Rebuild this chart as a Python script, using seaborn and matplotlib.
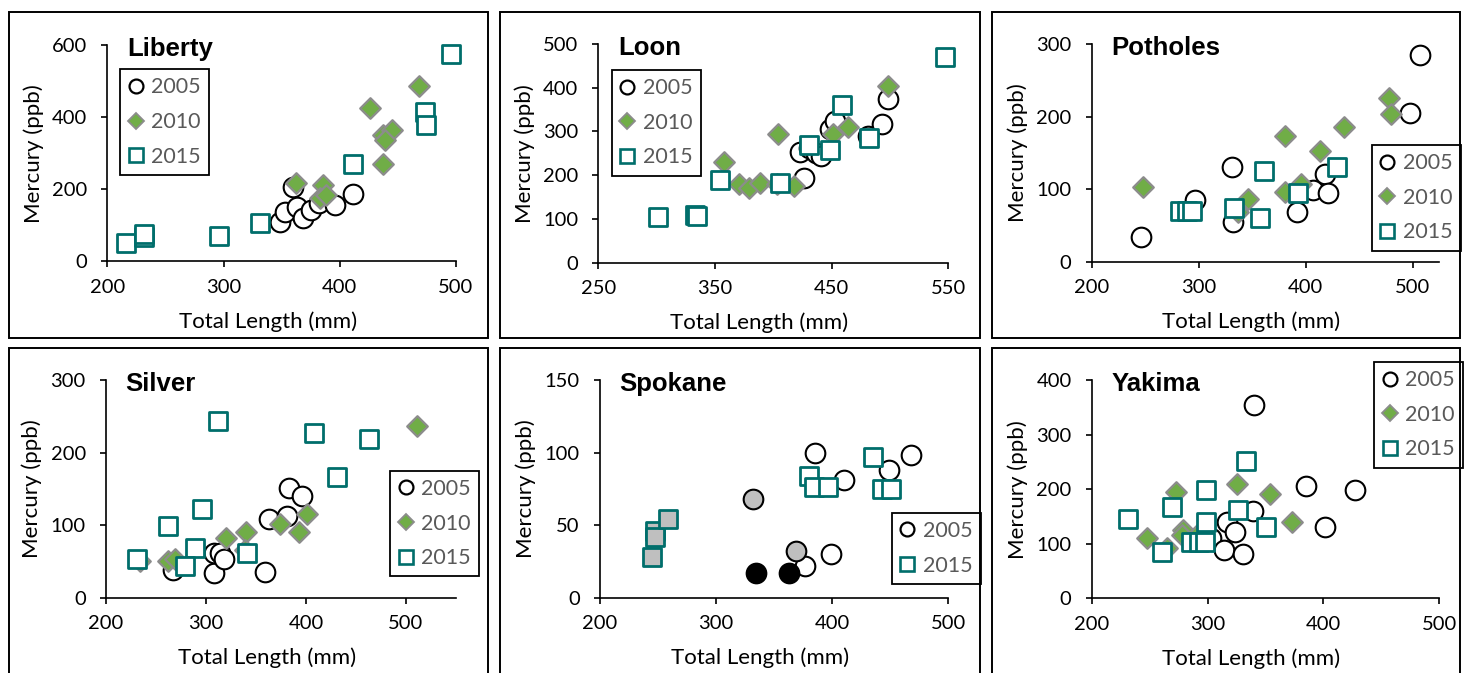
import matplotlib
matplotlib.use("Agg")
import matplotlib.pyplot as plt
from matplotlib.patches import Rectangle
from matplotlib.lines import Line2D
import seaborn as sns

sns.set_style("white")
plt.rcParams["font.family"] = ["Lato", "DejaVu Sans"]

W, H = 1466, 673

# ---- data (Total Length mm, Mercury ppb) ----
lib05_x = [360, 349, 353, 363, 368, 375, 382, 396, 411]
lib05_y = [207, 110, 138, 152, 119, 142, 161, 156, 186]
lib10_x = [362, 386, 383, 388, 426, 437, 445, 439, 437, 468]
lib10_y = [217, 212, 175, 184, 427, 351, 365, 337, 269, 487]
lib15_x = [216, 232, 232, 296, 331, 411, 473, 474, 496]
lib15_y = [50, 68, 76, 70, 106, 269, 415, 379, 576]

loon05_x = [426, 423, 431, 437, 441, 449, 453, 481, 493, 498]
loon05_y = [193, 254, 262, 250, 244, 305, 323, 290, 317, 374]
loon10_x = [358, 371, 379, 389, 404, 403, 418, 451, 464, 498]
loon10_y = [230, 180, 170, 182, 294, 180, 176, 295, 311, 403]
loon15_x = [301, 333, 335, 354, 406, 431, 449, 459, 482, 547]
loon15_y = [105, 110, 106, 189, 183, 270, 258, 361, 285, 470]

pot05_x = [246, 297, 331, 332, 392, 407, 418, 421, 498, 507]
pot05_y = [34, 85, 130, 55, 68, 99, 121, 94, 205, 285]
pot10_x = [248, 337, 346, 381, 381, 396, 413, 436, 478, 480]
pot10_y = [103, 69, 87, 173, 96, 107, 153, 185, 225, 203]
pot15_x = [283, 289, 294, 333, 357, 361, 393, 429]
pot15_y = [70, 70, 70, 74, 60, 125, 94, 131]

sil05_x = [267, 308, 308, 314, 318, 359, 363, 381, 383, 396]
sil05_y = [38, 34, 62, 62, 54, 36, 109, 112, 151, 140]
sil10_x = [234, 262, 269, 320, 340, 339, 374, 393, 401, 511]
sil10_y = [50, 50, 54, 82, 90, 66, 102, 90, 116, 237]
sil15_x = [231, 262, 289, 279, 296, 312, 341, 408, 431, 463]
sil15_y = [54, 99, 68, 43, 122, 243, 61, 227, 166, 219]

spo05_open_x = [385, 410, 449, 468, 399, 377]
spo05_open_y = [100, 81, 88, 98, 30, 22]
spo05_black_x = [334, 363]
spo05_black_y = [17, 17]
spo05_gray_x = [332, 369]
spo05_gray_y = [68, 32]
spo15_open_x = [380, 384, 396, 435, 443, 451]
spo15_open_y = [84, 76, 76, 97, 75, 75]
spo15_gray_x = [245, 247, 247, 259]
spo15_gray_y = [28, 46, 42, 54]

yak05_x = [340, 385, 427, 401, 339, 317, 324, 303, 314, 331]
yak05_y = [354, 206, 198, 131, 160, 140, 121, 110, 89, 81]
yak10_x = [248, 265, 273, 279, 278, 293, 325, 354, 373]
yak10_y = [110, 93, 195, 126, 116, 119, 209, 191, 140]
yak15_x = [231, 269, 261, 299, 299, 286, 293, 298, 333, 326, 350]
yak15_y = [145, 168, 85, 198, 139, 104, 104, 104, 252, 162, 131]

GREEN = "#70AD47"
GREY_EDGE = "#8C8C8C"
TEAL = "#006E6B"
LEG_TXT = "#595959"

# marker styles: (marker, size, face, edge, lw)
ST = {
    "05": ("o", 200, "white", "black", 1.5),
    "05k": ("o", 200, "black", "black", 1.5),
    "05g": ("o", 200, "#BFBFBF", "black", 1.5),
    "10": ("D", 110, GREEN, GREY_EDGE, 1.6),
    "15": ("s", 185, "white", TEAL, 2.0),
    "15g": ("s", 185, "#BFBFBF", TEAL, 2.0),
}
LEG = {
    "05": dict(marker="o", ms=10, mfc="white", mec="black", mew=1.6),
    "10": dict(marker="D", ms=8, mfc=GREEN, mec=GREY_EDGE, mew=1.3),
    "15": dict(marker="s", ms=9.5, mfc="white", mec=TEAL, mew=1.9),
}

panels = [
    dict(name="Liberty", box=(107.3, 45.3, 456, 261.3), xlim=(200, 500), xt=[200, 300, 400, 500],
         ylim=(0, 600), yt=[0, 200, 400, 600], leg=(120, 69.3), legkeys=["05", "10", "15"],
         series=[("05", lib05_x, lib05_y), ("10", lib10_x, lib10_y), ("15", lib15_x, lib15_y)]),
    dict(name="Loon", box=(598.3, 44, 948.3, 262.7), xlim=(250, 550), xt=[250, 350, 450, 550],
         ylim=(0, 500), yt=[0, 100, 200, 300, 400, 500], leg=(611.7, 70), legkeys=["05", "10", "15"],
         series=[("05", loon05_x, loon05_y), ("10", loon10_x, loon10_y), ("15", loon15_x, loon15_y)]),
    dict(name="Potholes", box=(1091.7, 44, 1439.3, 261.7), xlim=(200, 525), xt=[200, 300, 400, 500],
         ylim=(0, 300), yt=[0, 100, 200, 300], leg=(1371.7, 145), legkeys=["05", "10", "15"],
         series=[("05", pot05_x, pot05_y), ("10", pot10_x, pot10_y), ("15", pot15_x, pot15_y)]),
    dict(name="Silver", box=(106, 380, 456, 597.7), xlim=(200, 550), xt=[200, 300, 400, 500],
         ylim=(0, 300), yt=[0, 100, 200, 300], leg=(390, 470.7), legkeys=["05", "10", "15"],
         series=[("05", sil05_x, sil05_y), ("10", sil10_x, sil10_y), ("15", sil15_x, sil15_y)]),
    dict(name="Spokane", box=(600, 380, 948.3, 597.7), xlim=(200, 500), xt=[200, 300, 400, 500],
         ylim=(0, 150), yt=[0, 50, 100, 150], leg=(891.7, 512.7), legkeys=["05", "15"],
         series=[("05", spo05_open_x, spo05_open_y), ("05k", spo05_black_x, spo05_black_y),
                 ("05g", spo05_gray_x, spo05_gray_y), ("15", spo15_open_x, spo15_open_y),
                 ("15g", spo15_gray_x, spo15_gray_y)]),
    dict(name="Yakima", box=(1091.7, 380, 1439.3, 598.3), xlim=(200, 500), xt=[200, 300, 400, 500],
         ylim=(0, 400), yt=[0, 100, 200, 300, 400], leg=(1374, 362), legkeys=["05", "10", "15"],
         series=[("05", yak05_x, yak05_y), ("10", yak10_x, yak10_y), ("15", yak15_x, yak15_y)]),
]
years = {"05": "2005", "10": "2010", "15": "2015"}

fig = plt.figure(figsize=(W / 100, H / 100), dpi=100)

# chart-area frames
for x0, y0, x1, y1 in [(8.7, 12, 488.3, 338.3), (500, 12, 980, 338.3), (992, 12, 1460, 338.3),
                       (8.7, 348.3, 488.3, 690), (500, 348.3, 980, 690), (992, 348.3, 1460, 690)]:
    fig.add_artist(Rectangle((x0 / W, 1 - y1 / H), (x1 - x0) / W, (y1 - y0) / H,
                             transform=fig.transFigure, fill=False, edgecolor="black", lw=1.4))

for p in panels:
    x0, y0, x1, y1 = p["box"]
    ax = fig.add_axes([x0 / W, 1 - y1 / H, (x1 - x0) / W, (y1 - y0) / H])
    ax.set_facecolor("none")
    for key, xs, ys in p["series"]:
        m, s, fc, ec, lw = ST[key]
        sns.scatterplot(x=xs, y=ys, ax=ax, marker=m, s=s, facecolor=fc, edgecolor=ec,
                        linewidth=lw, legend=False, zorder=3, clip_on=False)
    ax.set_xlim(*p["xlim"]); ax.set_ylim(*p["ylim"])
    ax.set_xticks(p["xt"]); ax.set_yticks(p["yt"])
    sns.despine(ax=ax)
    for sp in ["left", "bottom"]:
        ax.spines[sp].set_color("black"); ax.spines[sp].set_linewidth(1.2)
    ax.tick_params(direction="out", length=4.5, width=1.2, color="black",
                   labelsize=14.5, labelcolor="black", left=True, bottom=True)
    ax.tick_params(axis="x", pad=8)
    ax.tick_params(axis="y", pad=10)
    ax.set_xlabel("Total Length (mm)", fontsize=16, color="black")
    ax.set_ylabel("Mercury (ppb)", fontsize=16, color="black")
    wpx, hpx = x1 - x0, y1 - y0
    ax.xaxis.label.set_va("center")
    ax.xaxis.set_label_coords(0.5 - 14 / wpx, -60 / hpx)
    ax.yaxis.label.set_va("center")
    ax.yaxis.set_label_coords(-74 / wpx, 0.5)
    ax.text(19.5 / wpx, 1 - 11 / hpx, p["name"], transform=ax.transAxes,
            fontsize=18.5, fontweight="bold", family=["Liberation Sans", "DejaVu Sans"],
            color="black", ha="left", va="baseline")
    handles = [Line2D([], [], ls="", **LEG[k]) for k in p["legkeys"]]
    lx, ly = p["leg"]
    leg = ax.legend(handles, [years[k] for k in p["legkeys"]], loc="upper left",
                    bbox_to_anchor=(lx / W, 1 - ly / H), bbox_transform=fig.transFigure,
                    borderaxespad=0, fontsize=15.5, frameon=True, fancybox=False,
                    borderpad=0.38, labelspacing=0.68, handlelength=0.7, handletextpad=0.38)
    leg.get_frame().set_edgecolor("black"); leg.get_frame().set_linewidth(1.3)
    leg.get_frame().set_facecolor("white"); leg.get_frame().set_alpha(1)
    for t in leg.get_texts():
        t.set_color(LEG_TXT)
    leg.set_zorder(5)

fig.savefig("out.png", dpi=100)
